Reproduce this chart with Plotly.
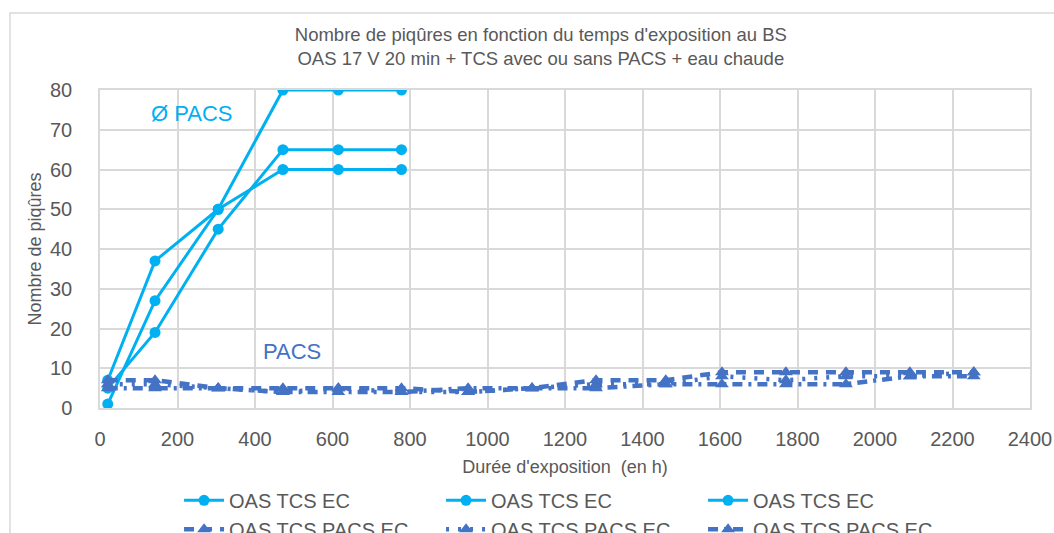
import plotly.graph_objects as go

# Exposure times (h) and pit counts
hours_ec = [20, 142, 305, 472, 615, 778]
ec_1 = [7, 37, 50, 60, 60, 60]
ec_2 = [1, 27, 50, 80, 80, 80]
ec_3 = [5, 19, 45, 65, 65, 65]

hours_pacs = [20, 142, 305, 472, 615, 778, 950, 1115, 1280, 1460, 1605, 1770, 1925, 2090, 2255]
pacs_1 = [7, 7, 5, 5, 5, 5, 4, 5, 7, 7, 9, 9, 9, 9, 9]
pacs_2 = [6, 6, 5, 4, 5, 4, 4, 5, 6, 6, 8, 7, 8, 8, 9]
pacs_3 = [5, 5, 5, 4, 4, 4, 5, 5, 5, 6, 6, 6, 6, 8, 8]

x_ticks = list(range(0, 2401, 200))
y_ticks = list(range(0, 81, 10))

EC_COLOR = "#00B0F0"
PACS_COLOR = "#4472C4"
TEXT = "#595959"
GRID = "#D9D9D9"
FONT = "Liberation Sans, Arial, sans-serif"

fig = go.Figure()

for ys in (ec_1, ec_2, ec_3):
    fig.add_trace(go.Scatter(
        x=hours_ec, y=ys, mode="lines+markers", name="OAS TCS EC",
        line=dict(color=EC_COLOR, width=3),
        marker=dict(symbol="circle", size=11, color=EC_COLOR),
    ))

for ys, dash in ((pacs_1, "10px,8px"), (pacs_2, "3px,9px"), (pacs_3, "10px,6px,3px,6px")):
    fig.add_trace(go.Scatter(
        x=hours_pacs, y=ys, mode="lines+markers", name="OAS TCS PACS EC",
        line=dict(color=PACS_COLOR, width=4.5, dash=dash),
        marker=dict(symbol="triangle-up", size=12, color=PACS_COLOR),
    ))

fig.add_annotation(x=237, y=74.2, text="Ø PACS", showarrow=False,
                   font=dict(family=FONT, size=22, color=EC_COLOR))
fig.add_annotation(x=495, y=14.1, text="PACS", showarrow=False,
                   font=dict(family=FONT, size=22, color=PACS_COLOR))

# outer chart frame
fig.add_shape(type="rect", xref="paper", yref="paper",
              x0=-0.0968, x1=1.05, y0=-0.6, y1=1.242,
              line=dict(color=GRID, width=1.5), layer="below")

fig.update_layout(
    width=1054, height=533,
    margin=dict(l=100, r=24, t=90, b=125),
    paper_bgcolor="white", plot_bgcolor="white",
    font=dict(family=FONT, color=TEXT),
    title=dict(
        text="Nombre de piqûres en fonction du temps d'exposition au BS<br>OAS 17 V 20 min + TCS avec ou sans PACS + eau chaude",
        x=0.474, xref="paper", xanchor="center", y=0.923, yanchor="middle",
        font=dict(family=FONT, size=18.5, color=TEXT),
    ),
    xaxis=dict(
        range=[0, 2400], tickvals=x_ticks, showgrid=True, gridcolor=GRID, gridwidth=1.5,
        zeroline=False, showline=True, linecolor=GRID, linewidth=1.5, mirror=True,
        tickfont=dict(size=20, color=TEXT), ticks="", ticklabelstandoff=12,
        title=dict(text="Durée d'exposition  (en h)", font=dict(size=18, color=TEXT), standoff=12),
        automargin=False,
    ),
    yaxis=dict(
        range=[0, 80], tickvals=y_ticks, showgrid=True, gridcolor=GRID, gridwidth=1.5,
        zeroline=False, showline=True, linecolor=GRID, linewidth=1.5, mirror=True,
        tickfont=dict(size=20, color=TEXT), ticks="", ticklabelstandoff=22,
        title=dict(text="Nombre de piqûres", font=dict(size=18, color=TEXT), standoff=4),
        automargin=False,
    ),
    legend=dict(
        orientation="h", xref="paper", x=0.085, xanchor="left",
        yref="container", y=0.098, yanchor="top",
        entrywidth=207, entrywidthmode="pixels",
        font=dict(family=FONT, size=20, color=TEXT), tracegroupgap=0,
        itemwidth=40,
    ),
    showlegend=True,
)

fig.write_html("out.html")
